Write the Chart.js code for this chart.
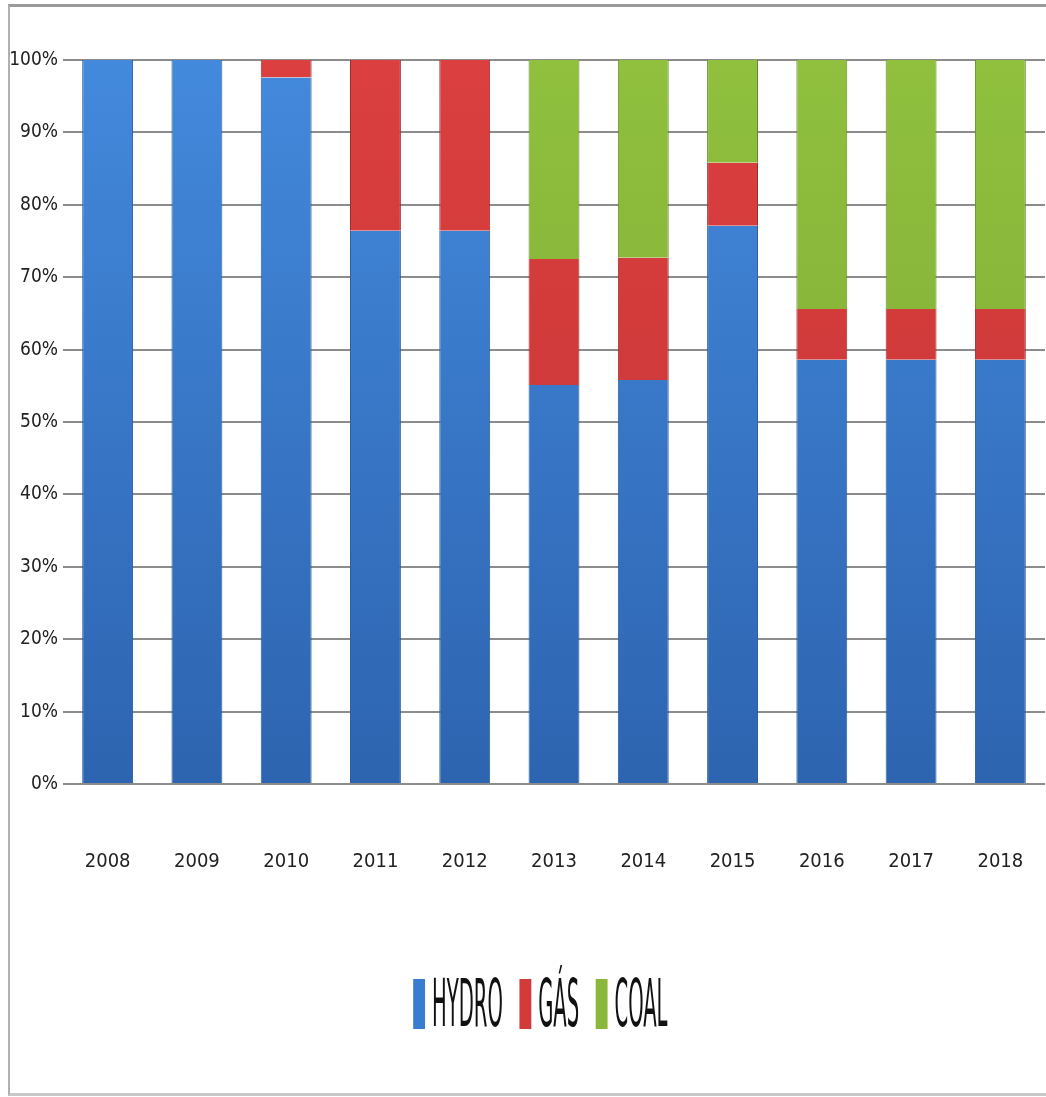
<!DOCTYPE html>
<html>
<head>
<meta charset="utf-8">
<script src="https://cdn.jsdelivr.net/npm/chart.js@4/dist/chart.umd.min.js"></script>
<style>
  html, body { margin: 0; padding: 0; background: #fff; overflow: hidden; }
  #frame {
    position: absolute; left: 8px; top: 4px;
    width: 1038px; height: 1086px;
    border-top: 3px solid #9a9a9a; border-left: 2px solid #b0b0b0; border-bottom: 3px solid #c8c8c8;
  }
  #wrap { position: absolute; left: 0; top: 0; width: 1036px; height: 1086px; }
  #legend { position: absolute; left: 0; top: 964px; width: 1036px; text-align: center; }
  #legend .row {
    display: inline-flex; align-items: center; margin-left: 24px;
    transform: scaleX(0.33); transform-origin: 50% 50%;
  }
  #legend .item { display: inline-flex; align-items: center; margin: 0 25px; }
  #legend .box { display: inline-block; width: 36px; height: 50px; margin-right: 21px; }
  #legend .txt {
    font-family: 'DejaVu Sans Condensed', 'DejaVu Sans', sans-serif;
    font-size: 66px; line-height: 1; color: #111;
  }
</style>
</head>
<body>
<div id="frame">
  <div id="wrap"><canvas id="mixChart"></canvas></div>
  <div id="legend"><div class="row" id="legendRow"></div></div>
</div>
<script>
// Dados (% da geração)
const years = ['2008', '2009', '2010', '2011', '2012', '2013', '2014', '2015', '2016', '2017', '2018'];
const hydro = [100, 100, 97.6, 76.4, 76.4, 55.1, 55.8, 77.1, 58.6, 58.6, 58.6];
const gas   = [0, 0, 2.4, 23.6, 23.6, 17.4, 16.9, 8.7, 7.0, 7.0, 7.0];
const coal  = [0, 0, 0, 0, 0, 27.5, 27.3, 14.2, 34.4, 34.4, 34.4];
const yTicks = [0, 10, 20, 30, 40, 50, 60, 70, 80, 90, 100];

const narrow = "'DejaVu Sans Condensed', 'DejaVu Sans', sans-serif";

// degradê vertical sobre a área do gráfico
function vGrad(top, bottom) {
    return function (c) {
        const area = c.chart.chartArea;
        if (!area) return bottom;
        const g = c.chart.ctx.createLinearGradient(0, area.top, 0, area.bottom);
        g.addColorStop(0, top);
        g.addColorStop(1, bottom);
        return g;
    };
}

const mixChartData = {
    labels: years,
    datasets: [
        { label: 'HYDRO', data: hydro, swatch: '#3a7cd0', backgroundColor: vGrad('#4389dc', '#2d64b0'), borderColor: '#2a5c9e' },
        { label: 'GÁS', data: gas, swatch: '#d33b3b', backgroundColor: vGrad('#db3f3f', '#c43434'), borderColor: '#9c2a2a' },
        { label: 'COAL', data: coal, swatch: '#8ab83a', backgroundColor: vGrad('#90c03e', '#7aa532'), borderColor: '#628a26' }
    ]
};

const mixChartConfig = {
    type: 'bar',
    data: mixChartData,
    options: {
        responsive: true,
        maintainAspectRatio: false,
        animation: false,
        datasets: {
            bar: {
                categoryPercentage: 1,
                barPercentage: 0.57,
                borderWidth: { top: 0, bottom: 0, left: 1, right: 1 },
                borderSkipped: false
            }
        },
        layout: { autoPadding: false, padding: { top: 53, right: 1, bottom: 0, left: 0 } },
        scales: {
            x: {
                stacked: true,
                grid: { display: false, drawTicks: false },
                border: { display: false },
                ticks: { color: '#222', padding: 66, maxRotation: 0, font: { family: narrow, size: 20 } },
                afterFit: function (scale) {
                    scale.height = 309;
                    scale.paddingLeft = 0;
                    scale.paddingRight = 0;
                }
            },
            y: {
                stacked: true,
                min: 0,
                max: 100,
                afterBuildTicks: function (scale) { scale.ticks = yTicks.map(v => ({ value: v })); },
                grid: { color: '#8c8c8c', lineWidth: 2, drawTicks: false },
                border: { display: false },
                ticks: {
                    color: '#222',
                    padding: 5,
                    font: { family: narrow, size: 19 },
                    callback: v => v + '%'
                },
                afterFit: function (scale) { scale.width = 53; }
            }
        },
        plugins: {
            tooltip: { enabled: false },
            legend: { display: false }
        }
    }
};

window.onload = function () {
    const ctx = document.getElementById('mixChart').getContext('2d');
    new Chart(ctx, mixChartConfig);

    // Legenda em HTML (texto condensado como no original)
    const row = document.getElementById('legendRow');
    mixChartData.datasets.forEach(ds => {
        const item = document.createElement('span');
        item.className = 'item';
        const box = document.createElement('span');
        box.className = 'box';
        box.style.background = ds.swatch;
        const txt = document.createElement('span');
        txt.className = 'txt';
        txt.textContent = ds.label;
        item.appendChild(box);
        item.appendChild(txt);
        row.appendChild(item);
    });
};
</script>
</body>
</html>
